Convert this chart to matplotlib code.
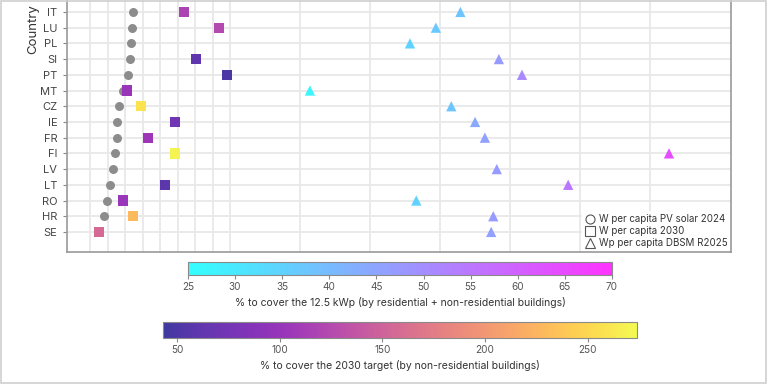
import matplotlib

matplotlib.use("Agg")

import matplotlib.pyplot as plt
import numpy as np
from matplotlib.cm import ScalarMappable
from matplotlib.colors import ListedColormap, Normalize
from matplotlib.lines import Line2D
from matplotlib.patches import Rectangle

plt.rcParams["font.family"] = ["Inter", "DejaVu Sans"]

nan = np.nan

# rows from bottom to top
countries = ["SE", "HR", "RO", "LT", "LV", "FI", "FR", "IE", "CZ", "MT", "PT", "SI", "PL", "LU", "IT"]
w_2024 = [113, 120, 124, 129, 133, 136, 139, 139, 141, 147, 154, 157, 159, 160, 161]
w_2030 = [113, 161, 147, 207, nan, 221, 183, 221, 173, 153, 296, 251, nan, 284, 234]
pct_2030 = [158, 228, 103, 59, nan, 269, 105, 71, 258, 101, 50, 61, nan, 124, 117]
wp_dbsm = [673, 676, 566, 783, 681, 927, 664, 650, 616, 414, 717, 684, 557, 594, 629]
pct_12kwp = [46, 47, 35, 55, 47, 64, 46, 44, 38, 27, 51, 47, 35, 37, 38]

grid_x = [100, 125, 150, 175, 200, 225, 250, 275, 300, 400, 500, 600, 700, 800, 900]


def faded(name, alpha=0.8):
    base = plt.get_cmap(name)(np.linspace(0, 1, 256))
    base[:, :3] = alpha * base[:, :3] + (1 - alpha)
    return ListedColormap(base)


cmap_sq = faded("plasma")
cmap_tri = faded("cool")
norm_sq = Normalize(43, 274)
norm_tri = Normalize(25, 70)

fig = plt.figure(figsize=(7.68, 3.84), dpi=100)
fig.patches.append(Rectangle((0.001, 0.002), 0.997, 0.996, transform=fig.transFigure,
                             fill=False, edgecolor="#cfcfcf", linewidth=1.2))

ax = fig.add_axes([0.0872, 0.344, 0.865, 0.656])
y = np.arange(len(countries))

ax.scatter(w_2024, y, s=42, color="#8c8c8c", zorder=3, linewidths=0)
ax.scatter(w_2030, y, s=55, marker="s", c=pct_2030, cmap=cmap_sq, norm=norm_sq,
           zorder=4, linewidths=0)
ax.scatter(wp_dbsm, y, s=55, marker="^", c=pct_12kwp, cmap=cmap_tri, norm=norm_tri,
           zorder=4, linewidths=0)

ax.set_xlim(67, 1016)
ax.set_ylim(-1.27, 14.76)
ax.set_xticks(grid_x)
ax.set_yticks(y)
ax.set_yticklabels(countries)
ax.tick_params(axis="x", length=0, labelbottom=False)
ax.tick_params(axis="y", length=3, color="#888888", labelsize=8, labelcolor="#444444", pad=4)
ax.grid(True, color="#e8e8e8", linewidth=1.3)
ax.set_axisbelow(True)
for side in ["left", "bottom", "right"]:
    ax.spines[side].set_color("#9a9a9a")
    ax.spines[side].set_linewidth(1.2)
ax.spines["top"].set_visible(False)
ax.set_ylabel("Country", fontsize=9.5, color="#333333")
ax.yaxis.set_label_coords(-0.042, 0.885)

handles = [
    Line2D([], [], linestyle="none", marker="o", markersize=6.5, mfc="none", mec="#555555", mew=0.8),
    Line2D([], [], linestyle="none", marker="s", markersize=6.5, mfc="none", mec="#555555", mew=0.8),
    Line2D([], [], linestyle="none", marker="^", markersize=6.5, mfc="none", mec="#555555", mew=0.8),
]
labels = ["W per capita PV solar 2024", "W per capita 2030", "Wp per capita DBSM R2025"]
leg = ax.legend(handles, labels, loc="lower right", fontsize=7, frameon=True,
                handletextpad=0.4, borderpad=0.3, labelspacing=0.2, handlelength=1.0,
                borderaxespad=0.1, fancybox=False)
leg.get_frame().set_edgecolor("none")
leg.get_frame().set_facecolor("white")
leg.get_frame().set_alpha(1)
for t in leg.get_texts():
    t.set_color("#333333")

cax1 = fig.add_axes([0.2448, 0.284, 0.552, 0.034])
cb1 = fig.colorbar(ScalarMappable(norm=norm_tri, cmap=cmap_tri), cax=cax1, orientation="horizontal")
cb1.set_ticks(np.arange(25, 71, 5))
cb1.set_label("% to cover the 12.5 kWp (by residential + non-residential buildings)",
              fontsize=7.5, color="#333333", labelpad=4)

cax2 = fig.add_axes([0.2122, 0.12, 0.617, 0.042])
cb2 = fig.colorbar(ScalarMappable(norm=norm_sq, cmap=cmap_sq), cax=cax2, orientation="horizontal")
cb2.set_ticks([50, 100, 150, 200, 250])
cb2.set_label("% to cover the 2030 target (by non-residential buildings)",
              fontsize=7.5, color="#333333", labelpad=4)

for cb in (cb1, cb2):
    cb.outline.set_edgecolor("#8a8a8a")
    cb.outline.set_linewidth(0.8)
    cb.ax.tick_params(labelsize=7.2, labelcolor="#555555", color="#888888", length=3, pad=2)

fig.savefig("out.png", dpi=100)
